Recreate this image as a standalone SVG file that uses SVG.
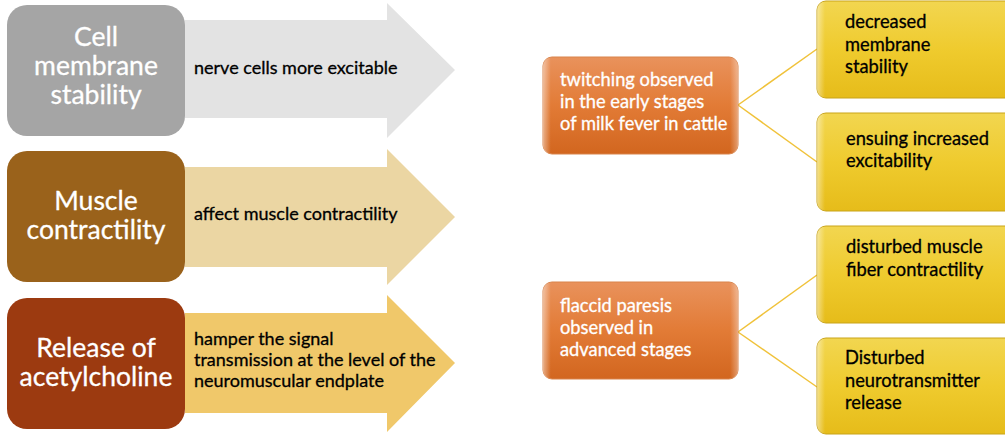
<svg xmlns="http://www.w3.org/2000/svg" width="1005" height="435" viewBox="0 0 1005 435">
<defs>
<linearGradient id="gOr" x1="0" y1="0" x2="0" y2="1">
<stop offset="0" stop-color="#E9925C"/>
<stop offset="0.5" stop-color="#E27B36"/>
<stop offset="1" stop-color="#D2661F"/>
</linearGradient>
<linearGradient id="gYe" x1="0" y1="0" x2="0" y2="1">
<stop offset="0" stop-color="#F2D650"/>
<stop offset="0.5" stop-color="#EFCB2E"/>
<stop offset="1" stop-color="#E6BC1A"/>
</linearGradient>
<linearGradient id="gEdge" x1="0" y1="0" x2="1" y2="0">
<stop offset="0" stop-color="#FFFFFF" stop-opacity="0.45"/>
<stop offset="0.04" stop-color="#FFFFFF" stop-opacity="0"/>
<stop offset="0.96" stop-color="#FFFFFF" stop-opacity="0"/>
<stop offset="1" stop-color="#FFFFFF" stop-opacity="0.35"/>
</linearGradient>
</defs>
<style>
.big{font-family:Lato,"Open Sans","Liberation Sans",sans-serif;font-size:26.5px;fill:#FFFFFF;stroke:#FFFFFF;stroke-width:0.3;text-anchor:middle}
.arr{font-family:Lato,"Open Sans","Liberation Sans",sans-serif;font-size:18px;fill:#000000;stroke:#000000;stroke-width:0.3}
.ow{font-family:Lato,"Open Sans","Liberation Sans",sans-serif;font-size:18.3px;fill:#FFFFFF;stroke:#FFFFFF;stroke-width:0.3}
.yb{font-family:Lato,"Open Sans","Liberation Sans",sans-serif;font-size:18.3px;fill:#000000;stroke:#000000;stroke-width:0.3}
.orb{fill:url(#gOr);stroke:#D9834A;stroke-width:1}
.yeb{fill:url(#gYe);stroke:#C9A418;stroke-width:1}
.edge{fill:url(#gEdge)}
.conn{stroke:#F0C23A;stroke-width:1.5;fill:none}
</style>

<g id="row1">
<polygon points="185,20 387,20 387,3 455,70 387,138 387,118 185,118" fill="#E3E3E3"/>
<rect x="7" y="5" width="178" height="131" rx="20" fill="#A5A5A5"/>
<text class="big" x="96" y="46">Cell</text>
<text class="big" x="96" y="75">membrane</text>
<text class="big" x="96" y="104">stability</text>
<text class="arr" x="194" y="74">nerve cells more excitable</text>
</g>

<g id="row2">
<polygon points="185,167 387,167 387,149 455,217 387,285 387,267 185,267" fill="#EBD6A3"/>
<rect x="7" y="151" width="178" height="131" rx="20" fill="#9A621B"/>
<text class="big" x="96" y="210">Muscle</text>
<text class="big" x="96" y="239">contractility</text>
<text class="arr" x="194" y="220">affect muscle contractility</text>
</g>

<g id="row3">
<polygon points="185,313 387,313 387,295 455,363 387,432 387,413 185,413" fill="#F0C86A"/>
<rect x="7" y="298" width="178" height="131" rx="20" fill="#9C3A10"/>
<text class="big" x="96" y="357">Release of</text>
<text class="big" x="96" y="386">acetylcholine</text>
<text class="arr" x="194" y="345">hamper the signal</text>
<text class="arr" x="194" y="366">transmission at the level of the</text>
<text class="arr" x="194" y="387">neuromuscular endplate</text>
</g>

<g id="connectors">
<line class="conn" x1="738" y1="105" x2="817" y2="49"/>
<line class="conn" x1="738" y1="105" x2="817" y2="162"/>
<line class="conn" x1="738" y1="332" x2="817" y2="275"/>
<line class="conn" x1="738" y1="332" x2="817" y2="387"/>
</g>

<g id="early">
<rect class="orb" x="543" y="57" width="195" height="97" rx="9"/>
<rect class="edge" x="543" y="57" width="195" height="97" rx="9"/>
<text class="ow" x="560" y="86">twitching observed</text>
<text class="ow" x="560" y="108">in the early stages</text>
<text class="ow" x="560" y="130">of milk fever in cattle</text>
</g>

<g id="advanced">
<rect class="orb" x="543" y="282" width="195" height="97" rx="9"/>
<rect class="edge" x="543" y="282" width="195" height="97" rx="9"/>
<text class="ow" x="560" y="312">flaccid paresis</text>
<text class="ow" x="560" y="334">observed in</text>
<text class="ow" x="560" y="356">advanced stages</text>
</g>

<g id="decreased">
<rect class="yeb" x="817" y="1" width="200" height="97" rx="9"/>
<rect class="edge" x="817" y="1" width="200" height="97" rx="9"/>
<text class="yb" x="845" y="28">decreased</text>
<text class="yb" x="845" y="51">membrane</text>
<text class="yb" x="845" y="73">stability</text>
</g>

<g id="ensuing">
<rect class="yeb" x="817" y="113" width="200" height="98" rx="9"/>
<rect class="edge" x="817" y="113" width="200" height="98" rx="9"/>
<text class="yb" x="846" y="145">ensuing increased</text>
<text class="yb" x="846" y="167">excitability</text>
</g>

<g id="disturbedMuscle">
<rect class="yeb" x="817" y="226" width="200" height="97" rx="9"/>
<rect class="edge" x="817" y="226" width="200" height="97" rx="9"/>
<text class="yb" x="846" y="253">disturbed muscle</text>
<text class="yb" x="846" y="276">fiber contractility</text>
</g>

<g id="disturbedNeuro">
<rect class="yeb" x="817" y="338" width="200" height="96" rx="9"/>
<rect class="edge" x="817" y="338" width="200" height="96" rx="9"/>
<text class="yb" x="845" y="364">Disturbed</text>
<text class="yb" x="845" y="387">neurotransmitter</text>
<text class="yb" x="845" y="409">release</text>
</g>
</svg>
